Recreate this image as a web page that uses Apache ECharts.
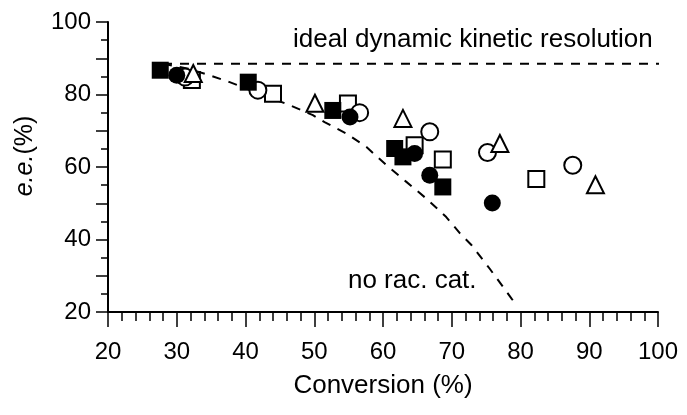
<!DOCTYPE html>
<html>
<head>
<meta charset="utf-8">
<script src="https://cdn.jsdelivr.net/npm/echarts@6/dist/echarts.min.js"></script>
<style>
  html, body { margin: 0; padding: 0; background: #fff; }
  #root { width: 687px; height: 415px; }
</style>
</head>
<body>
<div id="root"></div>
<script>
  // [conversion %, e.e. %]
  const filledSquares = [[27.6, 86.7], [40.4, 83.4], [52.7, 75.6], [61.7, 65.1], [62.9, 62.8], [68.7, 54.5]];
  const filledCircles = [[30.0, 85.3], [55.2, 73.8], [64.6, 63.7], [66.8, 57.7], [75.9, 50.1]];
  const openCircles = [[31.2, 84.8], [41.8, 81.2], [56.6, 75.0], [66.8, 69.7], [75.2, 64.0], [87.6, 60.5]];
  const openSquares = [[32.2, 84.0], [44.0, 80.2], [54.9, 77.5], [64.6, 66.0], [68.7, 62.1], [82.3, 56.7]];
  const openTriangles = [[32.4, 85.8], [50.1, 77.6], [62.9, 73.4], [77.0, 66.5], [90.9, 55.1]];

  const idealLine = [[28, 88.5], [102.3, 88.5]];
  const noRacCurve = [[28, 88.5], [31.5, 87.2], [34.8, 85.3], [37.7, 83.4], [46.5, 77.0], [49.8, 74.3],
    [51.5, 72.4], [54.7, 69.2], [57.6, 65.5], [60.5, 60.5], [63.4, 55.9], [66.3, 51.3], [69.2, 46.2],
    [71.2, 41.7], [72.9, 38.4], [75.5, 32.0], [78.7, 23.7], [79.3, 22.3]];

  const notes = [
    { text: 'ideal dynamic kinetic resolution', at: [46.9, 95] },
    { text: 'no rac. cat.', at: [54.9, 28.7] }
  ];

  const font = 'Liberation Sans, Arial, sans-serif';

  const chart = echarts.init(document.getElementById('root'));

  const dashed = (data) => ({
    type: 'line',
    data,
    symbol: 'none',
    clip: false,
    silent: true,
    lineStyle: { color: '#000', width: 2, type: [9, 8] },
    z: 1
  });

  const marks = (data, symbol, filled, size) => ({
    type: 'scatter',
    data,
    symbol,
    symbolSize: size,
    itemStyle: filled
      ? { color: '#000', opacity: 1 }
      : { color: '#fff', borderColor: '#000', borderWidth: 2, opacity: 1 },
    z: 3
  });

  const option = {
    animation: false,
    backgroundColor: '#fff',
    grid: { left: 108, right: 29, top: 22, bottom: 103 },
    xAxis: {
      type: 'value',
      min: 20,
      max: 100,
      interval: 10,
      name: 'Conversion (%)',
      nameLocation: 'middle',
      nameGap: 61,
      nameTextStyle: { color: '#000', fontSize: 26, fontFamily: font },
      axisLine: { onZero: false, lineStyle: { color: '#000', width: 2 } },
      axisTick: { length: 15, lineStyle: { color: '#000', width: 1.5 } },
      minorTick: { show: true, splitNumber: 5, length: 9, lineStyle: { color: '#000', width: 1.5 } },
      axisLabel: { color: '#000', fontSize: 24, fontFamily: font, margin: 28 },
      splitLine: { show: false }
    },
    yAxis: {
      type: 'value',
      min: 20,
      max: 100,
      interval: 10,
      name: '{i|e.e.}{n|(%)}',
      nameLocation: 'middle',
      nameRotate: 90,
      nameGap: 70,
      nameTextStyle: {
        color: '#000',
        padding: [0, 0, 0, 22],
        rich: {
          i: { fontSize: 25, fontFamily: font, fontStyle: 'italic', color: '#000' },
          n: { fontSize: 25, fontFamily: font, color: '#000' }
        }
      },
      axisLine: { onZero: false, lineStyle: { color: '#000', width: 2 } },
      axisTick: { length: 12, lineStyle: { color: '#000', width: 1.5 } },
      minorTick: { show: true, splitNumber: 2, length: 7, lineStyle: { color: '#000', width: 1.5 } },
      axisLabel: {
        color: '#000', fontSize: 24, fontFamily: font, margin: 17,
        formatter: (v) => (v % 20 === 0 ? String(v) : '')
      },
      splitLine: { show: false }
    },
    series: [
      dashed(idealLine),
      dashed(noRacCurve),
      marks(openSquares, 'rect', false, 16),
      marks(openCircles, 'circle', false, 17),
      marks(openTriangles, 'triangle', false, 17),
      marks(filledSquares, 'rect', true, 17),
      marks(filledCircles, 'circle', true, 17)
    ]
  };

  chart.setOption(option);

  // annotation texts anchored at data coordinates
  chart.setOption({
    graphic: notes.map((n) => {
      const p = chart.convertToPixel({ gridIndex: 0 }, n.at);
      return {
        type: 'text',
        x: p[0],
        y: p[1],
        style: {
          text: n.text,
          fill: '#000',
          font: '26px ' + font,
          verticalAlign: 'middle'
        }
      };
    })
  });
</script>
</body>
</html>
